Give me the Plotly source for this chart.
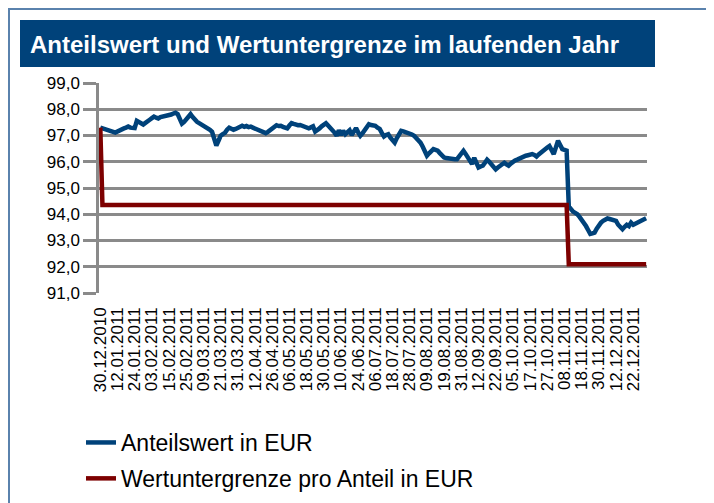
import plotly.graph_objects as go

# ---- data ----
tick_labels = [
    "30.12.2010", "12.01.2011", "24.01.2011", "03.02.2011", "15.02.2011", "25.02.2011",
    "09.03.2011", "21.03.2011", "31.03.2011", "12.04.2011", "26.04.2011", "06.05.2011",
    "18.05.2011", "30.05.2011", "10.06.2011", "24.06.2011", "06.07.2011", "18.07.2011",
    "28.07.2011", "09.08.2011", "19.08.2011", "31.08.2011", "12.09.2011", "22.09.2011",
    "05.10.2011", "17.10.2011", "27.10.2011", "08.11.2011", "18.11.2011", "30.11.2011",
    "12.12.2011", "22.12.2011",
]
label_step = 8  # one label every 8 trading days

anteilswert = [
    97.30, 97.28, 97.25, 97.22, 97.20, 97.18, 97.14, 97.11, 97.16, 97.20,
    97.24, 97.27, 97.30, 97.34, 97.30, 97.27, 97.28, 97.56, 97.50, 97.45,
    97.42, 97.48, 97.52, 97.60, 97.66, 97.72, 97.68, 97.65, 97.70, 97.72,
    97.75, 97.73, 97.78, 97.80, 97.84, 97.87, 97.82, 97.66, 97.45, 97.52,
    97.60, 97.72, 97.81, 97.70, 97.60, 97.52, 97.47, 97.42, 97.37, 97.34,
    97.30, 97.22, 97.14, 96.90, 96.62, 96.80, 96.99, 97.05, 97.10, 97.22,
    97.30, 97.26, 97.22, 97.25, 97.30, 97.34, 97.37, 97.33, 97.36, 97.32,
    97.34, 97.30, 97.27, 97.24, 97.20, 97.16, 97.12, 97.09, 97.14, 97.20,
    97.30, 97.37, 97.39, 97.36, 97.37, 97.33, 97.30, 97.27, 97.38, 97.47,
    97.44, 97.41, 97.39, 97.40, 97.37, 97.37, 97.31, 97.27, 97.31, 97.35,
    97.15, 97.20, 97.27, 97.35, 97.42, 97.47, 97.38, 97.30, 97.20, 97.11,
    96.99, 97.20, 97.02, 97.18, 97.05, 97.12, 97.20, 97.02, 97.15, 97.28,
    97.12, 96.99, 97.08, 97.20, 97.33, 97.43, 97.40, 97.38, 97.37, 97.30,
    97.25, 97.10, 96.96, 97.02, 97.05, 96.92, 96.82, 96.73, 96.90, 97.05,
    97.18, 97.16, 97.14, 97.12, 97.08, 97.04, 96.99, 96.92, 96.84, 96.73,
    96.58, 96.40, 96.23, 96.32, 96.40, 96.48, 96.45, 96.42, 96.33, 96.24,
    96.16, 96.14, 96.12, 96.10, 96.11, 96.10, 96.10, 96.20, 96.32, 96.42,
    96.30, 96.18, 96.05, 95.91, 96.15, 96.00, 95.78, 95.82, 95.85, 95.96,
    96.08, 96.00, 95.90, 95.80, 95.71, 95.78, 95.85, 95.90, 95.96, 95.90,
    95.85, 95.93, 96.00, 96.05, 96.08, 96.13, 96.16, 96.20, 96.23, 96.25,
    96.27, 96.29, 96.26, 96.20, 96.28, 96.36, 96.43, 96.48, 96.54, 96.60,
    96.45, 96.29, 96.55, 96.80, 96.64, 96.48, 96.45, 96.42, 94.30, 94.18,
    94.10, 94.05, 94.00, 93.90, 93.80, 93.70, 93.55, 93.40, 93.25, 93.27,
    93.30, 93.45, 93.60, 93.68, 93.75, 93.80, 93.84, 93.82, 93.80, 93.75,
    93.75, 93.60, 93.50, 93.43, 93.52, 93.60, 93.55, 93.68, 93.60, 93.65,
    93.70, 93.74, 93.78, 93.80, 93.85,
]

# Wertuntergrenze: breakpoints (trading-day index, value)
untergrenze_idx = [0, 1, 217, 218, 254]
untergrenze_val = [97.30, 94.35, 94.35, 92.10, 92.10]

name_blue = "Anteilswert in EUR"
name_red = "Wertuntergrenze pro Anteil in EUR"
title_text = "Anteilswert und Wertuntergrenze im laufenden Jahr"

# ---- styles ----
BLUE = "#00427a"
RED = "#7d0000"
GRID = "#8a8a8a"
FONT = "Liberation Sans, Arial, sans-serif"

# the page body adds an 8px offset, so the figure is drawn 8px smaller
W, H = 706, 495
L, R, T, B = 91, 67, 75, 210
pw, ph = W - L - R, H - T - B


def px_x(x):
    return (x - L) / pw


def px_y(y):
    return (H - B - y) / ph


fig = go.Figure()
fig.add_trace(go.Scatter(
    x=list(range(len(anteilswert))), y=anteilswert, mode="lines",
    name=name_blue, legendgroup="a",
    line=dict(color=BLUE, width=4.5, shape="linear"),
))
fig.add_trace(go.Scatter(
    x=untergrenze_idx, y=untergrenze_val, mode="lines",
    name=name_red, legendgroup="b",
    line=dict(color=RED, width=4.5),
))

tickvals = [i * label_step for i in range(len(tick_labels))]

fig.update_layout(
    width=W, height=H,
    margin=dict(l=L, r=R, t=T, b=B, pad=0, autoexpand=False),
    paper_bgcolor="white", plot_bgcolor="white",
    separators=",.",
    font=dict(family=FONT, color="#000000", size=16),
    showlegend=True,
    legend=dict(
        x=px_x(73), y=px_y(413), xanchor="left", yanchor="top",
        font=dict(size=23, family=FONT, color="#000000"),
        tracegroupgap=3, bgcolor="rgba(0,0,0,0)",
        traceorder="grouped",
    ),
    xaxis=dict(
        range=[-0.6, 254.4], tickmode="array", tickvals=tickvals, ticktext=tick_labels,
        tickangle=-90, tickfont=dict(size=17, family=FONT, color="#000000"),
        showgrid=False, zeroline=False, showline=False, ticks="",
        ticklabelstandoff=10, automargin=False,
    ),
    yaxis=dict(
        range=[91, 99], dtick=1, tick0=91, tickformat=".1f",
        tickfont=dict(size=17, family=FONT, color="#000000"),
        showgrid=True, gridcolor=GRID, gridwidth=2.5,
        zeroline=False, showline=True, linecolor=GRID, linewidth=2.5,
        ticks="outside", ticklen=13, tickwidth=2.5, tickcolor=GRID,
        automargin=False,
    ),
    shapes=[
        dict(type="rect", xref="paper", yref="paper",
             x0=px_x(1), x1=px_x(702), y0=px_y(540), y1=px_y(1),
             line=dict(color="#5a82ad", width=2), fillcolor="rgba(0,0,0,0)", layer="below"),
        dict(type="rect", xref="paper", yref="paper",
             x0=px_x(12), x1=px_x(647), y0=px_y(59), y1=px_y(12),
             line=dict(width=0), fillcolor="#00427a", layer="below"),
    ],
    annotations=[
        dict(text="<b>" + title_text + "</b>", xref="paper", yref="paper",
             x=px_x(20), y=px_y(37), xanchor="left", yanchor="middle",
             showarrow=False, font=dict(size=24, family=FONT, color="white")),
    ],
)

fig.write_html("out.html")
